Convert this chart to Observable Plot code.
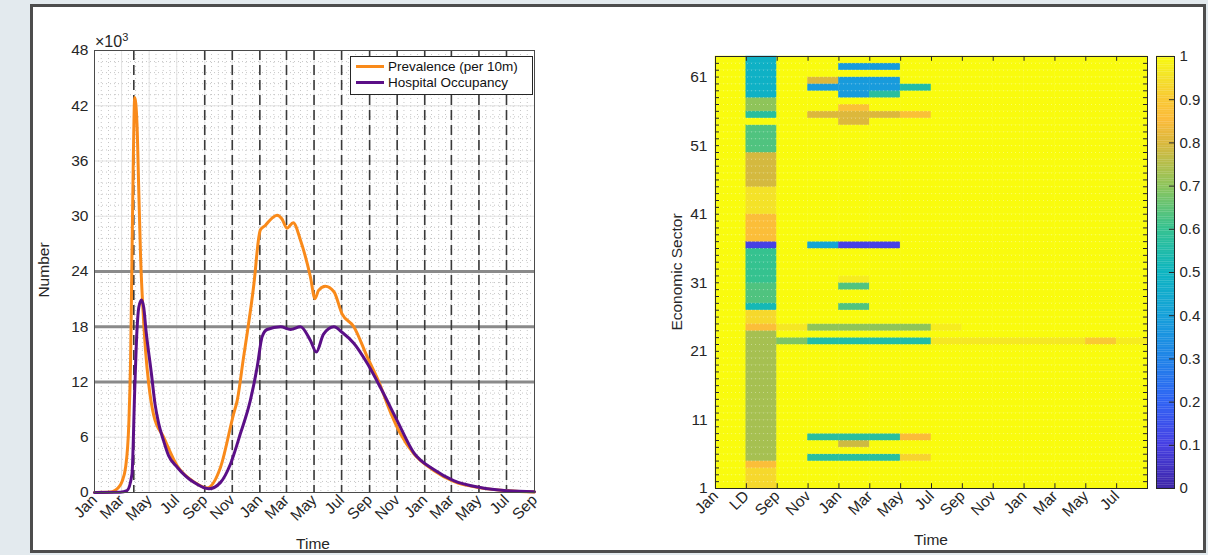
<!DOCTYPE html>
<html>
<head>
<meta charset="utf-8">
<script src="https://cdn.jsdelivr.net/npm/d3@7"></script>
<script src="https://cdn.jsdelivr.net/npm/@observablehq/plot@0.6"></script>
<style>
  body{margin:0;width:1208px;height:555px;overflow:hidden;background:#e3eaee;font-family:"Liberation Sans",Arial,sans-serif;position:relative}
  #frame{position:absolute;left:30px;top:4px;width:1170px;height:543px;border:3px solid #4d4d4d;background:#fff}
  .chart{position:absolute;top:0}
  .chart svg{max-width:none;overflow:visible}
  .lab{position:absolute;font-size:15.5px;color:#262626;white-space:nowrap;transform:translate(-50%,-50%)}
  .lab.rot{transform:translate(-50%,-50%) rotate(-90deg)}
  #exp{position:absolute;left:95px;top:31px;font-size:16px;color:#262626}
  #exp sup{font-size:11px}
  #legend{position:absolute;left:350px;top:56px;width:181px;height:37px;border:1px solid #262626;background:#fff;font-size:13.5px;color:#111}
  #legend .row{position:absolute;left:5px;height:16px;line-height:16px}
  #legend .sw{display:inline-block;width:28px;height:3px;vertical-align:middle;margin-right:4px;position:relative;top:-1px}
</style>
</head>
<body>
<div id="frame"></div>
<div id="left" class="chart" style="left:0px"></div>
<div id="right" class="chart" style="left:600px"></div>
<div id="cbar" class="chart" style="left:1140px"></div>
<div id="exp">×10<sup>3</sup></div>
<div id="legend">
  <div class="row" style="top:2px"><span class="sw" style="background:#f98a1a"></span>Prevalence (per 10m)</div>
  <div class="row" style="top:18px"><span class="sw" style="background:#5b0f87"></span>Hospital Occupancy</div>
</div>
<div class="lab rot" style="left:44px;top:270px">Number</div>
<div class="lab" style="left:313px;top:544px">Time</div>
<div class="lab rot" style="left:677px;top:272px">Economic Sector</div>
<div class="lab" style="left:931px;top:540px">Time</div>
<script>
// ---------------- Left chart data (values in thousands) ----------------
const prevDates = ["2020-01-01","2020-02-05","2020-02-24","2020-03-02","2020-03-10","2020-03-17","2020-03-21","2020-03-24","2020-03-27","2020-03-30","2020-04-04","2020-04-08","2020-04-12","2020-04-17","2020-04-23","2020-04-30","2020-05-11","2020-06-02","2020-07-02","2020-08-08","2020-09-06","2020-10-06","2020-11-04","2020-11-12","2020-11-26","2020-12-04","2020-12-19","2020-12-30","2021-01-02","2021-01-13","2021-01-28","2021-02-08","2021-02-19","2021-03-02","2021-03-16","2021-04-01","2021-04-23","2021-05-03","2021-05-11","2021-05-26","2021-06-14","2021-07-02","2021-07-28","2021-08-27","2021-09-25","2021-10-10","2021-11-08","2021-12-08","2022-01-21","2022-03-06","2022-05-04","2022-07-02","2022-09-01"];
const prevValues = [0,0.05,0.6,1.2,2.8,7.5,14.7,25.6,36.4,42.9,40.1,32.8,25.6,20.1,15.4,11.8,8.4,6.0,2.9,1.15,0.5,2.75,8.55,10.0,14.7,17.3,22.7,27.8,28.5,29.0,29.8,30.1,29.7,28.7,29.3,27.4,23.4,21.05,21.95,22.4,21.8,19.4,18.0,14.7,11.6,9.6,6.4,4.2,2.4,1.2,0.5,0.2,0.05];
const hospDates = ["2020-01-01","2020-02-27","2020-03-13","2020-03-24","2020-03-30","2020-04-04","2020-04-08","2020-04-14","2020-04-19","2020-04-24","2020-05-06","2020-05-14","2020-05-22","2020-06-02","2020-06-13","2020-07-02","2020-08-08","2020-09-10","2020-10-06","2020-10-28","2020-11-19","2020-12-11","2020-12-26","2021-01-06","2021-01-17","2021-02-16","2021-03-10","2021-04-01","2021-04-23","2021-05-06","2021-05-22","2021-06-14","2021-07-02","2021-07-28","2021-08-27","2021-09-25","2021-11-01","2021-12-08","2022-01-21","2022-03-06","2022-05-04","2022-07-02","2022-09-01"];
const hospValues = [0,0.02,0.2,2.0,11.1,17.6,20.1,20.9,20.1,17.6,12.9,9.6,7.5,5.6,4.0,2.75,1.1,0.4,1.1,3.1,6.4,10.0,13.6,16.9,17.7,18.0,17.7,18.0,16.5,15.25,17.2,18.0,17.4,16.2,14.0,11.4,7.8,4.3,2.5,1.3,0.55,0.2,0.08];
const xTickDates = ["2020-01-01","2020-03-01","2020-05-01","2020-07-01","2020-09-01","2020-11-01","2021-01-01","2021-03-01","2021-05-01","2021-07-01","2021-09-01","2021-11-01","2022-01-01","2022-03-01","2022-05-01","2022-07-01","2022-09-01"];
const yTicks = [0,6,12,18,24,30,36,42,48];
const thresholds = [12,18,24];
const interventionDates = ["2020-03-28","2020-09-01","2020-11-01","2021-01-01","2021-03-01","2021-05-01","2021-07-01","2021-09-01","2021-11-01","2022-01-01","2022-03-01","2022-05-01","2022-07-01"];

// ---------------- Right chart data ----------------
const heatColLabels = ["Jan","LD","Sep","Nov","Jan","Mar","May","Jul","Sep","Nov","Jan","Mar","May","Jul"];
const sectorTicks = [1,11,21,31,41,51,61];
const nSectors = 63;
// runs of non-unit values: [column (1-based), first sector, last sector, value]; all other cells are 1
const heatRuns = [
  [2,1,3,0.93],[2,4,4,0.86],[2,5,23,0.73],[2,24,24,0.86],[2,25,26,0.93],[2,27,27,0.52],[2,28,30,0.63],[2,31,35,0.6],[2,36,36,0.1],[2,37,40,0.86],[2,41,44,0.95],[2,45,49,0.79],[2,50,53,0.63],[2,55,55,0.57],[2,56,57,0.7],[2,58,63,0.48],
  [3,22,22,0.68],[3,24,24,0.96],
  [4,5,5,0.57],[4,8,8,0.57],[4,22,22,0.55],[4,24,24,0.7],[4,36,36,0.42],[4,55,55,0.8],[4,59,59,0.38],[4,60,60,0.8],
  [5,5,5,0.57],[5,7,7,0.78],[5,8,8,0.57],[5,22,22,0.55],[5,24,24,0.7],[5,27,27,0.63],[5,30,30,0.63],[5,31,31,0.97],[5,36,36,0.1],[5,54,54,0.8],[5,55,55,0.8],[5,56,56,0.87],[5,58,60,0.38],[5,62,62,0.38],
  [6,5,5,0.57],[6,8,8,0.57],[6,22,22,0.55],[6,24,24,0.7],[6,36,36,0.1],[6,55,55,0.8],[6,58,58,0.57],[6,59,60,0.38],[6,62,62,0.38],
  [7,5,5,0.92],[7,8,8,0.85],[7,22,22,0.55],[7,24,24,0.7],[7,55,55,0.87],[7,59,59,0.55],
  [8,22,22,0.96],[8,24,24,0.97],[9,22,22,0.96],[10,22,22,0.96],[11,22,22,0.96],[12,22,22,0.96],[13,22,22,0.9],[14,22,22,0.97]
];
const colorTicks = [0,0.1,0.2,0.3,0.4,0.5,0.6,0.7,0.8,0.9,1];
// parula-like colormap stops
const parulaDomain = [0,0.1,0.2,0.3,0.4,0.5,0.6,0.7,0.8,0.85,0.9,0.95,1];
const parulaRange = ["#3e26a8","#4640e4","#2f63f4","#1f84e8","#16a1d9","#0db5c0","#35c28f","#8fc45a","#dcb83c","#fbbb3a","#f9c933","#f4e228","#f9fb0e"];

const font = '"Liberation Sans", Arial, sans-serif';
const baseStyle = {background:"transparent", fontSize:"15.5px", fontFamily:font, color:"#262626", overflow:"visible"};

// ---------- LEFT ----------
const prevalence = prevDates.map((d,i)=>({date:new Date(d), value:prevValues[i]}));
const hospital = hospDates.map((d,i)=>({date:new Date(d), value:hospValues[i]}));
const x0 = new Date("2020-01-01"), x1 = new Date("2022-09-01");
const monthGrid = d3.utcMonth.range(x0, x1);
const halfMonthGrid = monthGrid.map(d => d3.utcDay.offset(d, 15));
const yMinor = d3.range(0, 48, 1.2);

const left = Plot.plot({
  width:600, height:555,
  marginLeft:94, marginRight:66, marginTop:50, marginBottom:63,
  style: baseStyle,
  x:{type:"utc", domain:[x0,x1], ticks:xTickDates.map(d=>new Date(d)), tickFormat:d3.utcFormat("%b"), tickRotate:-45, tickSize:0, tickPadding:5, label:null},
  y:{domain:[0,48], ticks:yTicks, tickSize:0, tickPadding:6, label:null},
  marks:[
    Plot.ruleX(monthGrid.concat(halfMonthGrid), {stroke:"#b8b8b8", strokeDasharray:"1,3", strokeWidth:0.8}),
    Plot.ruleY(yMinor, {stroke:"#b8b8b8", strokeDasharray:"1,3", strokeWidth:0.8}),
    Plot.ruleX(xTickDates.map(d=>new Date(d)), {stroke:"#e3e3e3", strokeWidth:1}),
    Plot.ruleY(yTicks, {stroke:"#e3e3e3", strokeWidth:1}),
    Plot.ruleY(thresholds, {stroke:"#8a8a8a", strokeWidth:3}),
    Plot.ruleX(interventionDates.map(d=>new Date(d)), {stroke:"#3a3a3a", strokeWidth:1.6, strokeDasharray:"10,5"}),
    Plot.line(prevalence, {x:"date", y:"value", stroke:"#f98a1a", strokeWidth:3, curve:"monotone-x"}),
    Plot.line(hospital, {x:"date", y:"value", stroke:"#5b0f87", strokeWidth:3, curve:"monotone-x"}),
    Plot.frame({stroke:"#4a4a4a", strokeWidth:1})
  ]
});
document.getElementById("left").appendChild(left);

// ---------- RIGHT (heatmap) ----------
const valueMap = new Map();
for (const [c, s0, s1, v] of heatRuns) for (let s = s0; s <= s1; s++) valueMap.set(c + "-" + s, v);
const cells = [];
for (let c = 1; c <= heatColLabels.length; c++)
  for (let s = 1; s <= nSectors; s++)
    cells.push({c, s, v: valueMap.has(c + "-" + s) ? valueMap.get(c + "-" + s) : 1});
const colIdx = heatColLabels.map((_, i) => i + 1);
const sectorIdx = d3.range(1, nSectors + 1);
const colorScale = {type:"linear", domain:parulaDomain, range:parulaRange, interpolate:"rgb"};

const right = Plot.plot({
  width:608, height:555,
  marginLeft:115, marginRight:61, marginTop:56, marginBottom:67,
  style: baseStyle,
  color: colorScale,
  x:{domain:[1, heatColLabels.length + 1], ticks:colIdx, tickFormat:i => heatColLabels[i-1], tickRotate:-45, tickSize:0, tickPadding:5, label:null},
  y:{domain:[1, nSectors + 1], ticks:sectorTicks, tickSize:0, tickPadding:8, label:null},
  marks:[
    Plot.rect(cells, {x1:"c", x2:d => d.c + 1, y1:"s", y2:d => d.s + 1, fill:"v", stroke:"v", strokeWidth:0.5}),
    Plot.ruleY(sectorIdx, {stroke:"#ffffff", strokeOpacity:0.45, strokeDasharray:"1,3", strokeWidth:0.8}),
    Plot.ruleX(colIdx.slice(1), {y1:nSectors + 1, y2:nSectors + 0.3, stroke:"#262626"}),
    Plot.ruleX(colIdx.slice(1), {y1:1, y2:1.7, stroke:"#262626"}),
    Plot.ruleY(sectorIdx, {x1:heatColLabels.length + 1, x2:heatColLabels.length + 0.87, stroke:"#262626"}),
    Plot.ruleY(sectorIdx, {x1:1, x2:1.13, stroke:"#262626"}),
    Plot.frame({stroke:"#262626", strokeWidth:1})
  ]
});
document.getElementById("right").appendChild(right);

// ---------- COLORBAR ----------
const steps = d3.range(0, 1, 0.004).map(v => ({v}));
const cbar = Plot.plot({
  width:68, height:555,
  marginLeft:16, marginRight:34, marginTop:56, marginBottom:67,
  style: {...baseStyle, fontSize:"15px"},
  color: colorScale,
  x:{domain:[0,1], axis:null},
  y:{domain:[0,1], ticks:colorTicks, tickFormat:d => d3.format("~g")(d), axis:"right", tickSize:0, tickPadding:5, label:null},
  marks:[
    Plot.rect(steps, {x1:0, x2:1, y1:"v", y2:d => d.v + 0.0045, fill:"v"}),
    Plot.ruleY(colorTicks, {x1:0.72, x2:1, stroke:"#262626"}),
    Plot.frame({stroke:"#262626", strokeWidth:1})
  ]
});
document.getElementById("cbar").appendChild(cbar);
</script>
</body>
</html>
